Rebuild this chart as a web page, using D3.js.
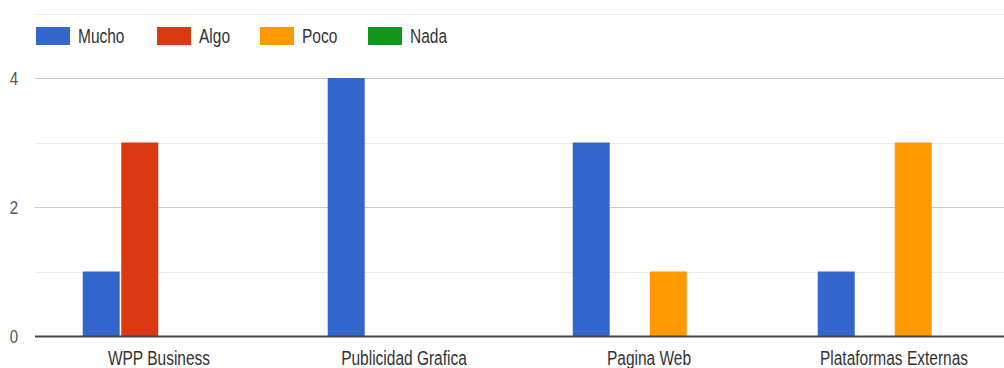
<!DOCTYPE html>
<html>
<head>
<meta charset="utf-8">
<script src="https://cdn.jsdelivr.net/npm/d3@7"></script>
<style>
  body { margin: 0; background: #fff; }
  svg { display: block; font-family: "Liberation Sans", Arial, sans-serif; }
</style>
</head>
<body>
<svg id="chart" width="1004" height="368"></svg>
<script>
// data
const categories = ["WPP Business", "Publicidad Grafica", "Pagina Web", "Plataformas Externas"];
const seriesNames = ["Mucho", "Algo", "Poco", "Nada"];
const mucho = [1, 4, 3, 1];
const algo = [3, 0, 0, 0];
const poco = [0, 0, 1, 3];
const nada = [0, 0, 0, 0];
const colors = ["#3366cc", "#dc3912", "#ff9900", "#109618"];
const majorTicks = [0, 2, 4];
const minorTicks = [1, 3, 5];

const svg = d3.select("#chart");
const values = [mucho, algo, poco, nada];

// chart area runs past the right/top edge (picture is cropped)
const left = 36.5, right = 1016.5, baseY = 336;
const stretch = 1.25; // text in the source looks vertically stretched

const x0 = d3.scaleBand().domain(categories).range([left, right]);
const x1 = d3.scaleBand().domain(seriesNames)
    .range([0, x0.bandwidth()])
    .paddingInner(0.04)
    .paddingOuter(1.2);
const y = d3.scaleLinear().domain([0, 4]).range([baseY, 78]);

// gridlines
svg.append("g").selectAll("line")
    .data(minorTicks)
    .join("line")
    .attr("x1", 35).attr("x2", 1004)
    .attr("y1", d => Math.round(y(d)) + 0.5)
    .attr("y2", d => Math.round(y(d)) + 0.5)
    .attr("stroke", "#ebebeb");

svg.append("g").selectAll("line")
    .data(majorTicks.filter(d => d !== 0))
    .join("line")
    .attr("x1", 35).attr("x2", 1004)
    .attr("y1", d => Math.round(y(d)) + 0.5)
    .attr("y2", d => Math.round(y(d)) + 0.5)
    .attr("stroke", "#cccccc");

// bars
const groups = svg.append("g").selectAll("g")
    .data(categories)
    .join("g")
    .attr("transform", d => `translate(${x0(d)},0)`);

groups.selectAll("rect")
    .data((c, i) => seriesNames.map((s, j) => ({ s: s, v: values[j][i], c: colors[j] })))
    .join("rect")
    .attr("x", d => x1(d.s))
    .attr("width", x1.bandwidth())
    .attr("y", d => y(d.v))
    .attr("height", d => baseY - y(d.v))
    .attr("fill", d => d.c);

// baseline
svg.append("line")
    .attr("x1", 35).attr("x2", 1004)
    .attr("y1", baseY + 0.5).attr("y2", baseY + 0.5)
    .attr("stroke", "#444")
    .attr("stroke-width", 2);

// y labels
svg.append("g").selectAll("text")
    .data(majorTicks)
    .join("text")
    .attr("transform", d => `translate(18,${y(d)}) scale(1,${stretch})`)
    .attr("dy", "0.36em")
    .attr("text-anchor", "end")
    .attr("font-size", 15)
    .attr("fill", "#555")
    .text(d => d);

// x labels
svg.append("g").selectAll("text")
    .data(categories)
    .join("text")
    .attr("transform", d => `translate(${x0(d) + x0.bandwidth() / 2},365) scale(1,${stretch})`)
    .attr("text-anchor", "middle")
    .attr("font-size", 15.5)
    .attr("fill", "#333")
    .text(d => d);

// legend
const legendX = [36, 157, 260, 368];
const legend = svg.append("g").selectAll("g")
    .data(seriesNames)
    .join("g")
    .attr("transform", (d, i) => `translate(${legendX[i]},27)`);

legend.append("rect")
    .attr("width", 34).attr("height", 18)
    .attr("fill", (d, i) => colors[i]);

legend.append("text")
    .attr("transform", `translate(42,9) scale(1,${stretch})`)
    .attr("dy", "0.36em")
    .attr("font-size", 15.5)
    .attr("fill", "#333")
    .text(d => d);
</script>
</body>
</html>
